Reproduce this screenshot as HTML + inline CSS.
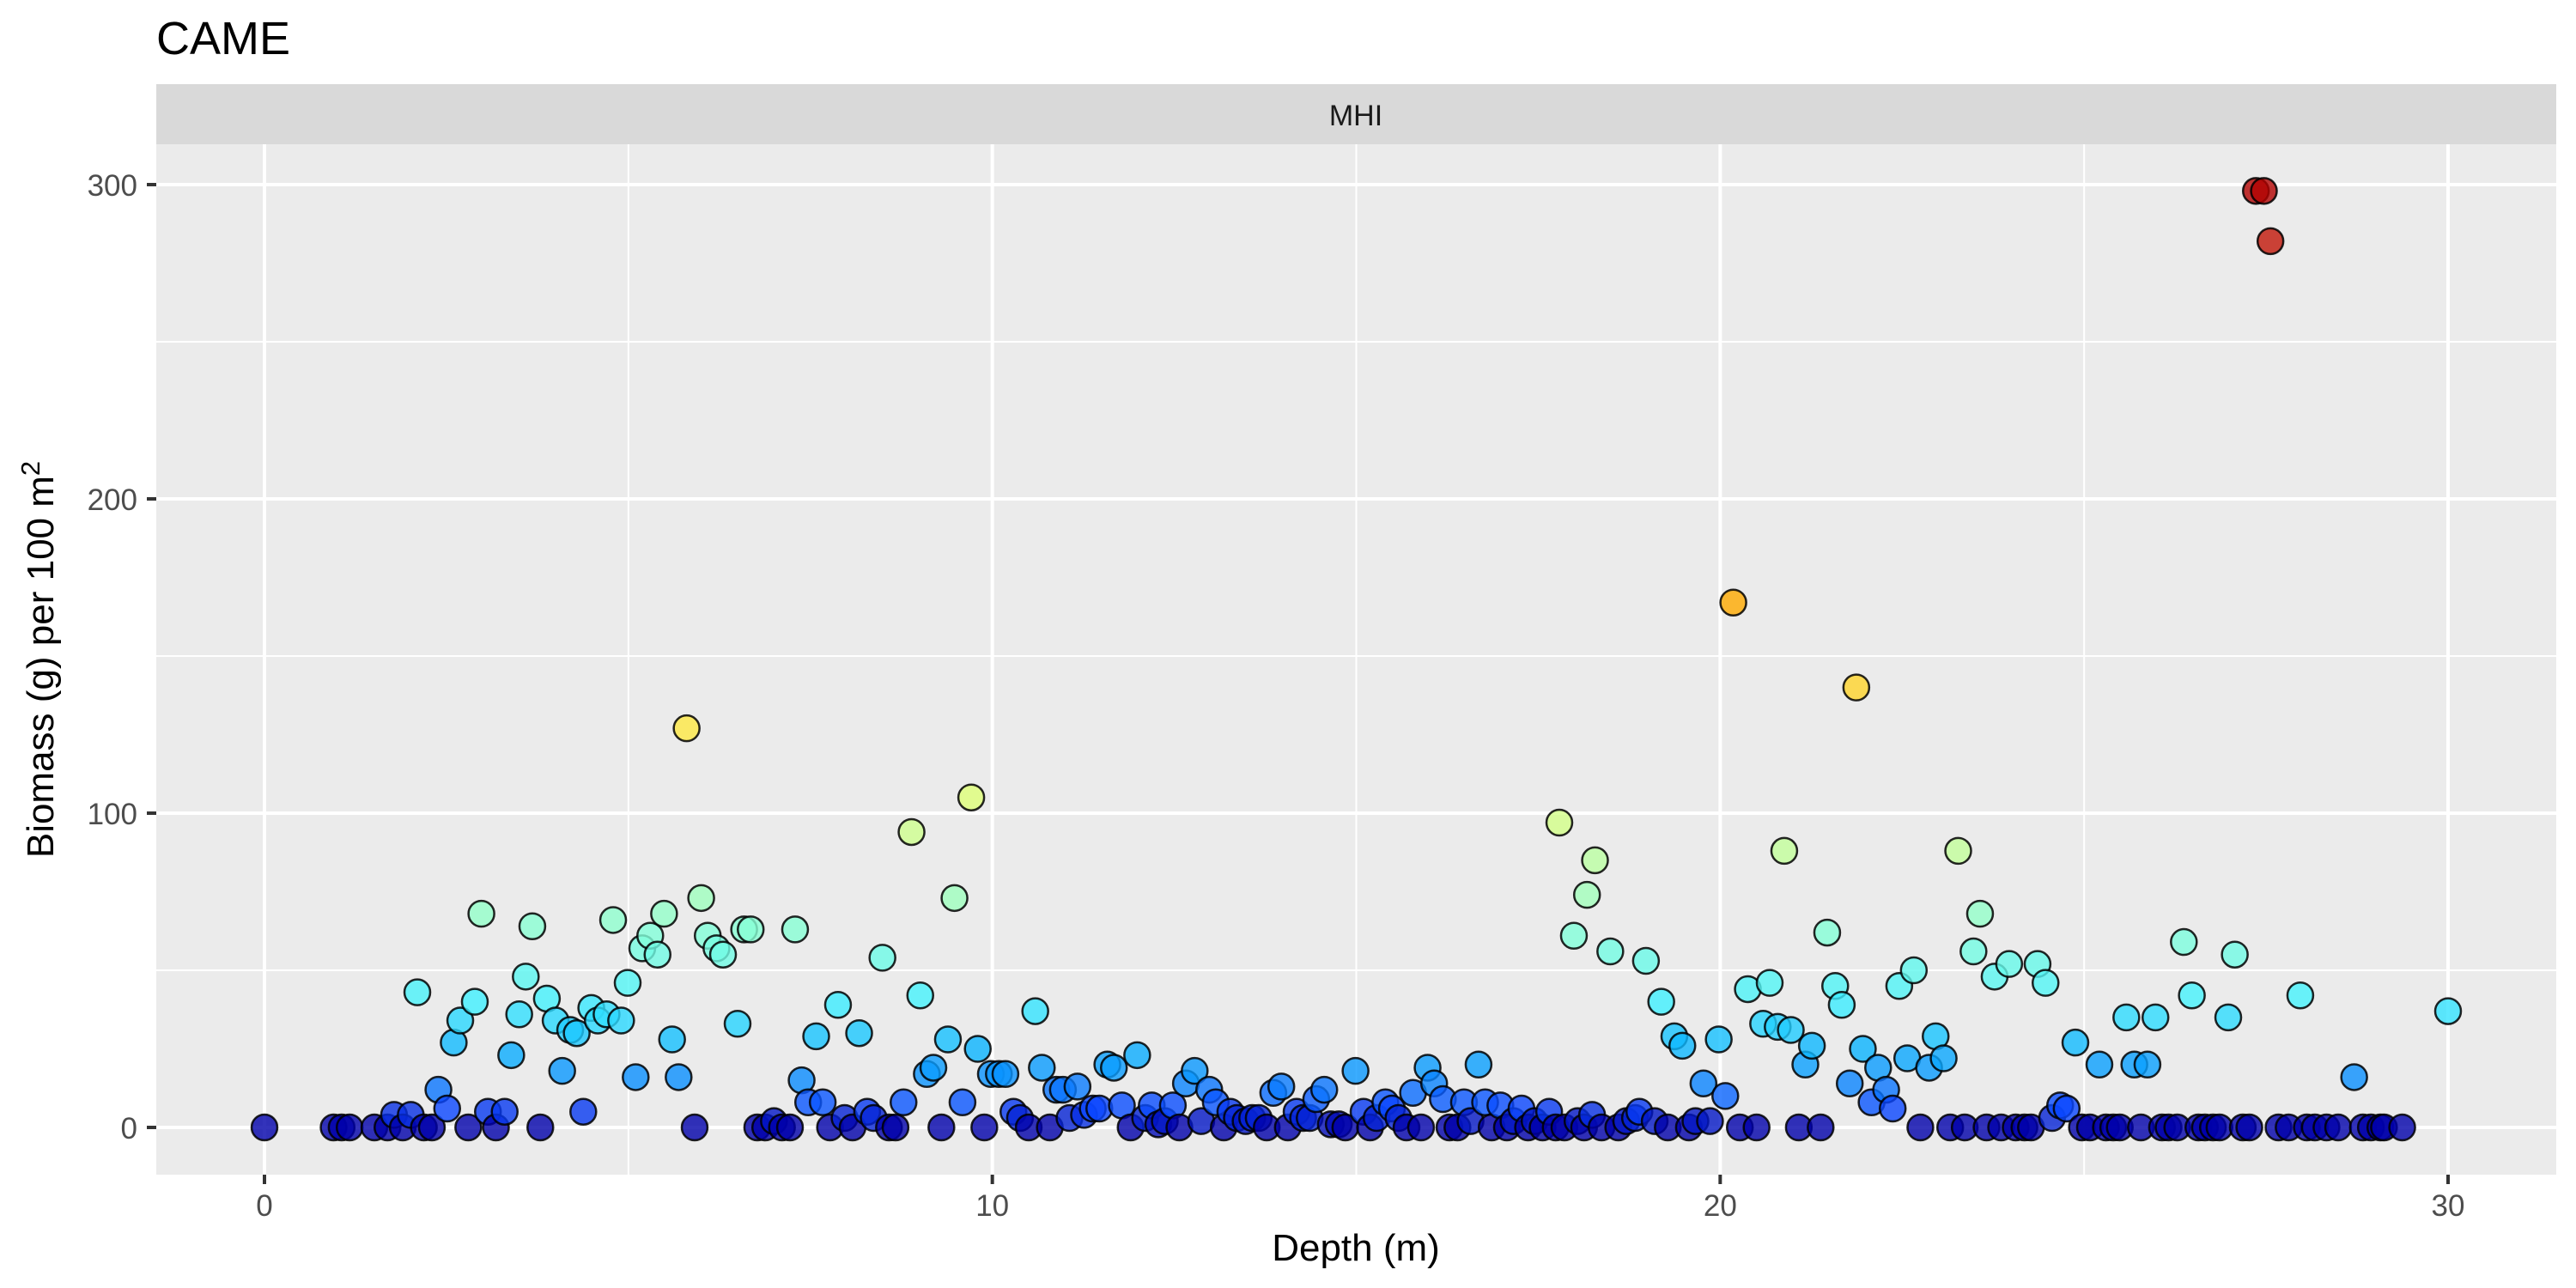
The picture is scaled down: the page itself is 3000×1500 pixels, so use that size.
<!DOCTYPE html>
<html><head><meta charset="utf-8"><style>
html,body{margin:0;padding:0;background:#fff}
svg{display:block;font-family:"Liberation Sans",Arial,sans-serif}
</style></head><body>
<svg id="chart" width="3000" height="1500" viewBox="0 0 3000 1500" xmlns="http://www.w3.org/2000/svg">
<rect x="0" y="0" width="3000" height="1500" fill="#fff"/>
<text x="182" y="63" font-size="54" fill="#000">CAME</text>
<rect x="182" y="98" width="2795" height="70" fill="#d9d9d9"/>
<text x="1579" y="146" font-size="34" fill="#1a1a1a" text-anchor="middle">MHI</text>
<rect x="182" y="168" width="2795" height="1200" fill="#ebebeb"/>
<g id="grid"></g>
<g id="axes"></g>
<g id="points"></g>
<text x="1579" y="1468" font-size="44" fill="#000" text-anchor="middle">Depth (m)</text>
<text transform="translate(62,768) rotate(-90)" font-size="44" fill="#000" text-anchor="middle">Biomass (g) per 100 m<tspan dy="-16" font-size="31">2</tspan></text>
</svg>
<script>
const depth=[0,0.95,1.06,1.17,1.51,1.69,1.78,1.90,2.01,2.10,2.19,2.30,2.39,2.51,2.60,2.69,2.80,2.89,2.98,3.07,3.18,3.30,3.39,3.50,3.59,3.68,3.79,3.88,4.00,4.09,4.20,4.29,4.38,4.49,4.58,4.70,4.79,4.90,4.99,5.10,5.19,5.30,5.40,5.49,5.60,5.69,5.80,5.91,6.00,6.09,6.21,6.30,6.50,6.59,6.68,6.77,6.88,7.00,7.11,7.22,7.29,7.38,7.47,7.58,7.67,7.77,7.88,7.97,8.08,8.17,8.28,8.37,8.49,8.58,8.67,8.78,8.89,9.01,9.10,9.19,9.30,9.39,9.48,9.59,9.71,9.80,9.89,9.98,10.09,10.18,10.29,10.38,10.50,10.59,10.68,10.79,10.88,10.97,11.06,11.17,11.26,11.38,11.47,11.58,11.67,11.78,11.90,11.99,12.10,12.19,12.28,12.37,12.48,12.57,12.66,12.78,12.87,12.98,13.07,13.18,13.27,13.36,13.48,13.57,13.66,13.77,13.86,13.97,14.06,14.18,14.27,14.36,14.45,14.56,14.65,14.76,14.85,14.99,15.10,15.19,15.28,15.40,15.49,15.58,15.69,15.78,15.89,15.98,16.07,16.19,16.28,16.39,16.48,16.57,16.68,16.77,16.86,16.98,17.07,17.16,17.27,17.36,17.45,17.56,17.65,17.74,17.79,17.86,17.99,18.04,18.13,18.17,18.24,18.28,18.37,18.49,18.60,18.71,18.83,18.89,18.98,19.10,19.19,19.28,19.37,19.48,19.57,19.66,19.77,19.86,19.98,20.07,20.18,20.27,20.38,20.50,20.59,20.68,20.79,20.88,20.97,21.08,21.17,21.26,21.38,21.47,21.58,21.67,21.78,21.87,21.96,22.08,22.17,22.28,22.37,22.46,22.57,22.66,22.75,22.87,22.96,23.07,23.16,23.27,23.36,23.48,23.57,23.66,23.77,23.86,23.97,24.06,24.18,24.27,24.36,24.47,24.56,24.67,24.76,24.88,24.97,25.08,25.21,25.30,25.40,25.49,25.58,25.69,25.78,25.87,25.98,26.07,26.16,26.28,26.37,26.48,26.57,26.66,26.77,26.86,26.98,27.07,27.18,27.27,27.36,27.47,27.56,27.67,27.81,27.97,28.06,28.17,28.33,28.49,28.71,28.83,28.94,29.07,29.12,29.37,30.0];
const biomass=[0,0,0,0,0,0,4,0,4,43,0,0,12,6,27,34,0,40,68,5,0,5,23,36,48,64,0,41,34,18,31,30,5,38,34,36,66,34,46,16,57,61,55,68,28,16,127,0,73,61,57,55,33,63,63,0,0,2,0,0,63,15,8,29,8,0,39,3,0,30,5,3,54,0,0,8,94,42,17,19,0,28,73,8,105,25,0,17,17,17,5,3,0,37,19,0,12,12,3,13,4,6,6,20,19,7,0,23,3,7,1,2,7,0,14,18,2,12,8,0,5,3,2,3,3,0,11,13,0,5,3,3,9,12,1,1,0,18,5,0,3,8,6,3,0,11,0,19,14,9,0,0,8,2,20,8,0,7,0,2,6,0,2,0,5,0,97,0,61,2,0,74,4,85,0,56,0,2,3,5,53,2,40,0,29,26,0,2,14,2,28,10,167,0,44,0,33,46,32,88,31,0,20,26,0,62,45,39,14,140,25,8,19,12,6,45,22,50,0,19,29,22,0,88,0,56,68,0,48,0,52,0,0,0,52,46,3,7,6,27,0,0,20,0,0,0,35,20,0,20,35,0,0,0,59,42,0,0,0,0,35,55,0,0,298,298,282,0,0,42,0,0,0,0,16,0,0,0,0,0,37];
const xTicks=[0,10,20,30];
const yTicks=[0,100,200,300];
const xMinor=[5,15,25];
const yMinor=[50,150,250];

const NS='http://www.w3.org/2000/svg';
const PL=182,PR=2977,PT=168,PB=1368;
function sx(v){return 308+v*(2851-308)/30;}
function sy(v){return 1313-v*(1313-215)/300;}
function mk(tag,attrs,parent){const e=document.createElementNS(NS,tag);for(const k in attrs)e.setAttribute(k,attrs[k]);parent.appendChild(e);return e;}
const grid=document.getElementById('grid'),axes=document.getElementById('axes'),pts=document.getElementById('points');
xMinor.forEach(v=>{const l=mk('line',{x1:sx(v),x2:sx(v),y1:PT,y2:PB,stroke:'#fff','stroke-width':2},grid);

});
yMinor.forEach(v=>{const l=mk('line',{x1:PL,x2:PR,y1:sy(v),y2:sy(v),stroke:'#fff','stroke-width':2},grid);

});
xTicks.forEach(v=>{const l=mk('line',{x1:sx(v),x2:sx(v),y1:PT,y2:PB,stroke:'#fff','stroke-width':4},grid);


const t=mk('line',{x1:sx(v),x2:sx(v),y1:PB,y2:PB+11,stroke:'#333','stroke-width':4},axes);


const tx=mk('text',{x:sx(v),y:PB+48,'font-size':35,fill:'#4d4d4d','text-anchor':'middle'},axes);tx.textContent=v;

});
yTicks.forEach(v=>{const l=mk('line',{x1:PL,x2:PR,y1:sy(v),y2:sy(v),stroke:'#fff','stroke-width':4},grid);


const t=mk('line',{x1:PL-11,x2:PL,y1:sy(v),y2:sy(v),stroke:'#333','stroke-width':4},axes);


const tx=mk('text',{x:PL-22,y:sy(v)+13,'font-size':35,fill:'#4d4d4d','text-anchor':'end'},axes);tx.textContent=v;

});
const stops=[[0,[0,0,170]],[6,[10,70,255]],[15,[10,140,255]],[25,[10,180,255]],[40,[64,240,255]],[60,[128,255,220]],[90,[200,255,150]],[110,[230,255,110]],[128,[255,232,64]],[167,[255,170,0]],[230,[230,60,0]],[285,[192,20,10]],[300,[176,0,0]]];
function col(v){for(let i=1;i<stops.length;i++){if(v<=stops[i][0]){const a=stops[i-1],b=stops[i],t=(v-a[0])/(b[0]-a[0]);const c=a[1].map((x,j)=>Math.round(x+(b[1][j]-x)*t));return 'rgb('+c.join(',')+')';}}return 'rgb(176,0,0)';}
for(let i=0;i<depth.length;i++){
const c=mk('circle',{cx:sx(depth[i]),cy:sy(biomass[i]),r:15,fill:col(biomass[i]),'fill-opacity':0.8,stroke:'#000','stroke-opacity':0.85,'stroke-width':2.5},pts);


}
</script>
</body></html>
